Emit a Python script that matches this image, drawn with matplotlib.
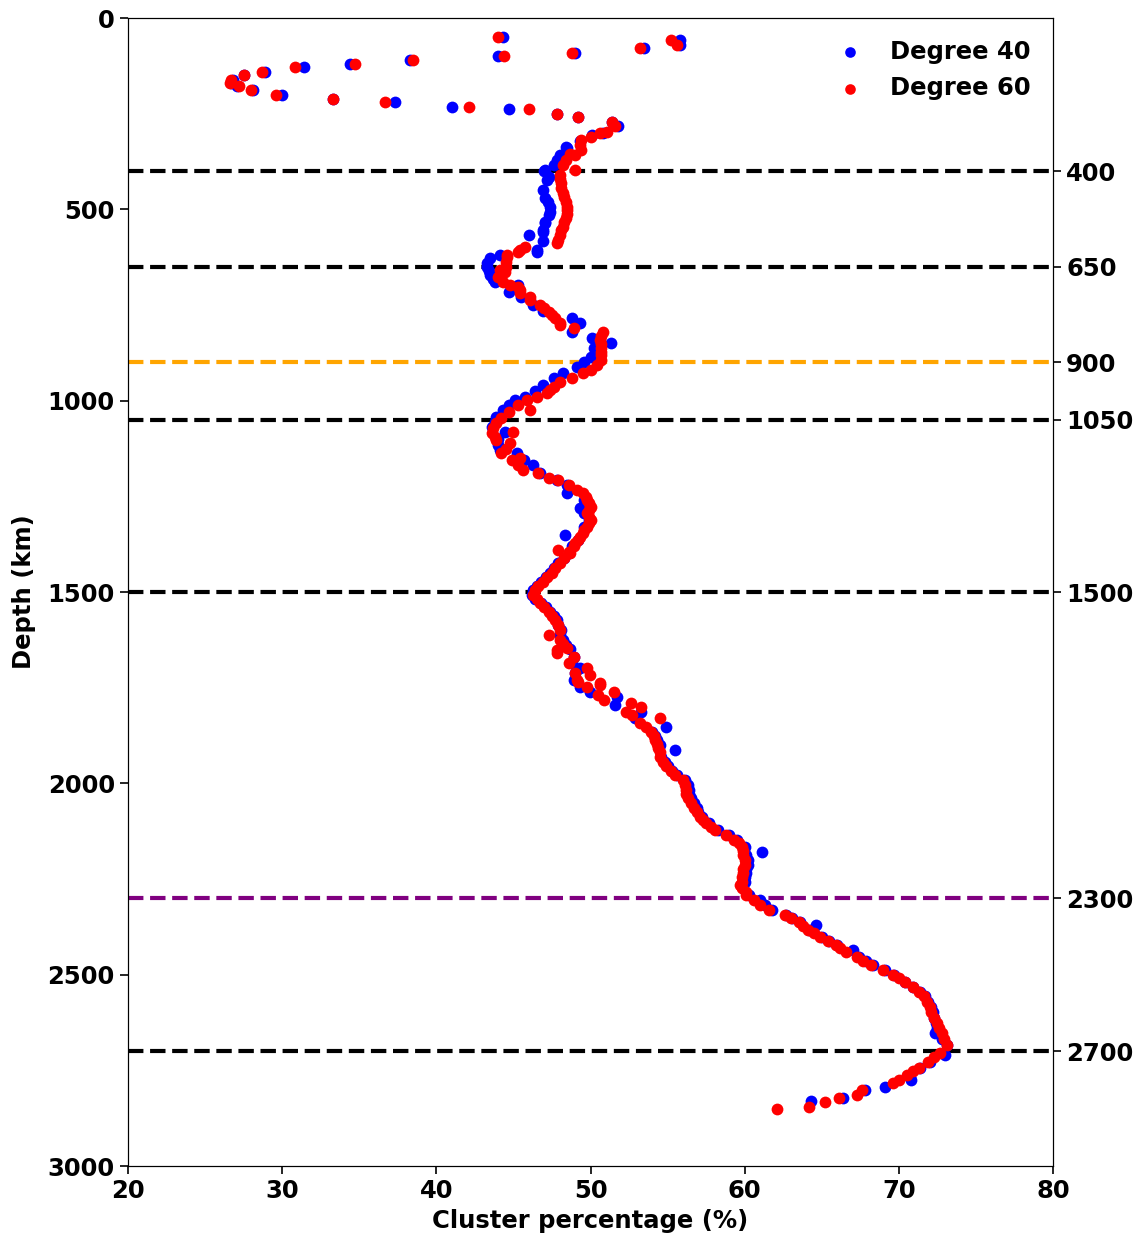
import matplotlib
matplotlib.use("Agg")
import matplotlib.pyplot as plt

# Degree 40 profile: (depth in km, cluster percentage in %)
deg40_profile = [
    (50, 44.35), (58, 55.8), (71, 55.8), (79, 53.5), (91, 49.0), (98, 44.0), (110, 38.3),
    (121, 34.4), (129, 31.4), (142, 28.9), (149, 27.5), (162, 26.8), (169, 26.7), (179, 27.1),
    (188, 28.1), (200, 30.0), (212, 33.3), (219, 37.3), (232, 41.0), (239, 44.7), (251, 47.8),
    (260, 49.2), (271, 51.4), (282, 51.8), (300, 50.8), (306, 50.1), (322, 49.3), (336, 48.4),
    (340, 48.5), (358, 48.0), (371, 47.8), (384, 47.6), (397, 47.05), (399, 47.0), (415, 47.3),
    (423, 47.15), (449, 46.9), (471, 47.05), (480, 47.26), (493, 47.4), (506, 47.37), (515, 47.3),
    (532, 47.05), (537, 47.05), (554, 46.93), (558, 46.9), (567, 46.0), (584, 46.9), (606, 46.5),
    (611, 46.5), (619, 44.1), (627, 43.5), (640, 43.3), (650, 43.3), (660, 43.4), (672, 43.5),
    (683, 43.7), (689, 43.8), (698, 45.3), (715, 44.7), (728, 45.5), (750, 46.3), (765, 46.9),
    (785, 48.8), (798, 49.3), (820, 48.8), (837, 50.1), (850, 51.3), (863, 50.2), (885, 50.0),
    (898, 49.6), (911, 49.1), (928, 48.2), (941, 47.6), (959, 46.9), (975, 46.4), (990, 45.75),
    (998, 45.1), (1011, 44.7), (1025, 44.3), (1042, 43.9), (1055, 43.8), (1068, 43.6),
    (1081, 44.45), (1100, 44.0), (1115, 44.0), (1129, 44.1), (1138, 45.2), (1155, 45.7),
    (1168, 46.3), (1190, 46.7), (1207, 47.8), (1220, 48.5), (1242, 48.45), (1260, 49.6),
    (1281, 49.3), (1294, 49.6), (1312, 49.9), (1329, 49.6), (1351, 48.35), (1364, 49.2),
    (1381, 48.8), (1398, 48.6), (1410, 48.3), (1425, 47.9), (1438, 47.6), (1451, 47.4),
    (1462, 47.1), (1473, 46.8), (1485, 46.5), (1495, 46.3), (1508, 46.2), (1518, 46.4),
    (1529, 46.8), (1540, 47.1), (1551, 47.4), (1562, 47.6), (1573, 47.8), (1586, 47.9),
    (1599, 48.1), (1612, 48.0), (1625, 48.2), (1638, 48.4), (1650, 48.7), (1669, 48.9),
    (1686, 48.8), (1699, 49.3), (1712, 49.0), (1730, 48.9), (1747, 49.3), (1761, 49.97),
    (1774, 51.7), (1795, 51.6), (1813, 53.3), (1830, 52.9), (1852, 54.9), (1865, 54.0),
    (1876, 54.2), (1887, 54.3), (1900, 54.5), (1913, 55.5), (1930, 54.6), (1943, 54.8),
    (1956, 55.0), (1967, 55.3), (1978, 55.6), (1991, 56.1), (2004, 56.3), (2017, 56.4),
    (2028, 56.4), (2039, 56.5), (2052, 56.7), (2065, 56.9), (2076, 57.0), (2087, 57.2),
    (2104, 57.7), (2122, 58.3), (2135, 59.0), (2148, 59.5), (2166, 60.0), (2179, 61.1),
    (2187, 60.1), (2200, 60.2), (2213, 60.2), (2224, 60.1), (2235, 60.1), (2246, 60.0),
    (2257, 60.0), (2274, 59.9), (2292, 60.3), (2305, 61.0), (2318, 61.3), (2331, 61.8),
    (2344, 62.7), (2353, 63.1), (2362, 63.6), (2370, 64.6), (2383, 64.2), (2401, 65.0),
    (2412, 65.5), (2422, 66.0), (2436, 67.0), (2453, 67.4), (2464, 67.9), (2475, 68.3),
    (2488, 69.1), (2501, 69.7), (2518, 70.4), (2531, 70.9), (2544, 71.4), (2557, 71.7),
    (2571, 71.9), (2584, 72.1), (2597, 72.2), (2612, 72.3), (2627, 72.4), (2640, 72.5),
    (2653, 72.35), (2668, 72.8), (2684, 73.1), (2710, 73.0), (2727, 72.0), (2745, 71.4),
    (2768, 70.7), (2775, 70.8), (2793, 69.1), (2801, 67.8), (2823, 66.4), (2829, 64.3),
]

# Degree 60 profile: (depth in km, cluster percentage in %)
deg60_profile = [
    (50, 44.0), (58, 55.2), (71, 55.6), (79, 53.2), (91, 48.8), (98, 44.4), (110, 38.5),
    (121, 34.7), (129, 30.8), (142, 28.7), (149, 27.5), (162, 26.7), (169, 26.6), (179, 27.2),
    (188, 28.0), (200, 29.6), (212, 33.3), (219, 36.7), (232, 42.1), (239, 46.0), (251, 47.8),
    (260, 49.2), (271, 51.4), (282, 51.6), (297, 51.1), (300, 50.6), (310, 50.0), (319, 49.4),
    (332, 49.3), (345, 49.4), (355, 48.7), (358, 49.0), (371, 48.4), (384, 48.2), (397, 49.0),
    (410, 48.0), (421, 48.0), (432, 48.1), (445, 48.1), (458, 48.2), (469, 48.3), (480, 48.4),
    (493, 48.45), (502, 48.5), (513, 48.5), (523, 48.4), (534, 48.3), (545, 48.2), (554, 48.1),
    (567, 48.0), (580, 47.9), (589, 47.8), (598, 45.75), (606, 45.4), (611, 45.3), (619, 44.6),
    (624, 44.6), (637, 44.5), (650, 44.5), (659, 44.1), (663, 44.45), (670, 44.1), (677, 44.0),
    (689, 44.3), (698, 44.8), (702, 45.3), (711, 45.4), (719, 45.4), (728, 46.1), (737, 46.1),
    (750, 46.7), (759, 47.0), (768, 47.3), (777, 47.5), (785, 47.7), (798, 48.0), (802, 48.0),
    (811, 48.9), (820, 50.8), (831, 50.7), (841, 50.6), (852, 50.7), (863, 50.7), (872, 50.7),
    (881, 50.7), (894, 50.7), (907, 50.4), (920, 50.0), (928, 49.5), (941, 48.8), (950, 48.0),
    (963, 47.6), (972, 47.4), (981, 47.15), (990, 46.5), (998, 45.85), (1011, 45.3),
    (1024, 46.1), (1029, 44.7), (1046, 44.2), (1059, 43.9), (1072, 43.7), (1081, 45.0),
    (1085, 43.6), (1094, 43.8), (1103, 43.9), (1111, 44.8), (1125, 44.5), (1138, 44.2),
    (1151, 45.4), (1155, 44.9), (1168, 45.3), (1181, 45.6), (1190, 46.6), (1203, 47.3),
    (1207, 47.9), (1220, 48.6), (1233, 49.1), (1242, 49.5), (1251, 49.7), (1260, 49.8),
    (1268, 49.9), (1277, 50.0), (1286, 49.9), (1294, 49.8), (1303, 49.9), (1312, 50.0),
    (1320, 49.9), (1329, 49.75), (1338, 49.6), (1347, 49.5), (1356, 49.3), (1364, 49.2),
    (1373, 49.0), (1381, 48.9), (1390, 47.9), (1395, 48.6), (1399, 48.7), (1410, 48.3),
    (1425, 48.0), (1438, 47.7), (1451, 47.5), (1462, 47.2), (1473, 46.9), (1484, 46.6),
    (1495, 46.4), (1508, 46.3), (1518, 46.5), (1529, 46.7), (1540, 47.0), (1551, 47.3),
    (1562, 47.5), (1573, 47.7), (1586, 47.9), (1599, 48.0), (1612, 47.3), (1625, 48.0),
    (1636, 48.2), (1646, 48.45), (1652, 47.8), (1660, 47.8), (1669, 48.9), (1686, 48.6),
    (1699, 49.75), (1712, 49.0), (1717, 49.97), (1730, 49.1), (1734, 49.2), (1739, 50.6),
    (1743, 50.6), (1747, 49.75), (1761, 51.5), (1769, 50.5), (1782, 50.9), (1791, 52.6),
    (1800, 53.3), (1813, 52.3), (1821, 52.7), (1830, 54.5), (1843, 53.2), (1854, 53.6),
    (1865, 53.9), (1876, 54.1), (1887, 54.2), (1898, 54.3), (1908, 54.4), (1919, 54.5),
    (1930, 54.5), (1943, 54.7), (1956, 54.9), (1967, 55.2), (1978, 55.5), (1991, 56.0),
    (2004, 56.1), (2017, 56.2), (2028, 56.2), (2039, 56.3), (2052, 56.5), (2065, 56.7),
    (2076, 56.9), (2087, 57.1), (2096, 57.3), (2104, 57.5), (2113, 57.8), (2122, 58.1),
    (2135, 58.8), (2148, 59.3), (2157, 59.6), (2166, 59.8), (2176, 59.9), (2187, 59.9),
    (2200, 60.0), (2213, 60.0), (2224, 59.9), (2235, 59.9), (2246, 59.8), (2257, 59.8),
    (2266, 59.7), (2274, 59.8), (2284, 60.1), (2292, 60.1), (2305, 60.6), (2318, 61.0),
    (2331, 61.6), (2344, 62.6), (2353, 63.0), (2362, 63.5), (2372, 63.8), (2383, 64.1),
    (2392, 64.5), (2401, 64.9), (2412, 65.4), (2422, 65.9), (2431, 66.2), (2440, 66.6),
    (2453, 67.3), (2464, 67.7), (2475, 68.2), (2488, 69.0), (2501, 69.6), (2510, 70.0),
    (2518, 70.4), (2531, 70.9), (2544, 71.3), (2557, 71.6), (2571, 71.8), (2584, 72.0),
    (2597, 72.1), (2612, 72.3), (2627, 72.45), (2640, 72.6), (2653, 72.8), (2668, 72.9),
    (2684, 73.1), (2705, 72.7), (2716, 72.3), (2727, 71.9), (2745, 71.3), (2753, 70.9),
    (2762, 70.5), (2774, 70.0), (2784, 69.6), (2801, 67.6), (2814, 67.3), (2823, 66.1),
    (2832, 65.2), (2845, 64.2), (2852, 62.1),
]

# Boundary depths (km) marked with dashed lines and right-hand labels
boundary_depths = [400, 650, 900, 1050, 1500, 2300, 2700]
boundary_colors = ["black", "black", "orange", "black", "black", "purple", "black"]

depth_deg40, pct_deg40 = zip(*deg40_profile)
depth_deg60, pct_deg60 = zip(*deg60_profile)

FS = 17.5
fig = plt.figure(figsize=(11.48, 12.39), dpi=100)
ax = fig.add_axes([128 / 1148, 1 - 1166 / 1239, (1053 - 128) / 1148, (1166 - 18) / 1239])

ax.scatter(pct_deg40, depth_deg40, s=72, color="blue", label="Degree 40", zorder=3,
           linewidths=0)
ax.scatter(pct_deg60, depth_deg60, s=72, color="red", label="Degree 60", zorder=4,
           linewidths=0)

for d, c in zip(boundary_depths, boundary_colors):
    ax.axhline(d, color=c, linestyle="--", linewidth=3, zorder=2)

ax.set_xlim(20, 80)
ax.set_ylim(3000, 0)
ax.set_xticks([20, 30, 40, 50, 60, 70, 80])
ax.set_yticks([0, 500, 1000, 1500, 2000, 2500, 3000])
ax.tick_params(axis="both", labelsize=FS, length=6, width=1.2)
for lab in ax.get_xticklabels() + ax.get_yticklabels():
    lab.set_fontweight("bold")
ax.set_xlabel("Cluster percentage (%)", fontsize=FS, fontweight="bold", labelpad=4)
ax.set_ylabel("Depth (km)", fontsize=FS, fontweight="bold", labelpad=8)

# Right-hand axis labelling the boundary depths
ax2 = ax.twinx()
ax2.set_ylim(3000, 0)
ax2.set_yticks(boundary_depths)
ax2.set_yticklabels([str(d) for d in boundary_depths], fontsize=FS, fontweight="bold")
ax2.tick_params(axis="y", length=6, width=1.2)

ax.legend(loc="upper right", frameon=False, prop={"size": FS, "weight": "bold"},
          scatterpoints=1, markerscale=0.9, handletextpad=0.65)

fig.savefig("out.png", dpi=100)
